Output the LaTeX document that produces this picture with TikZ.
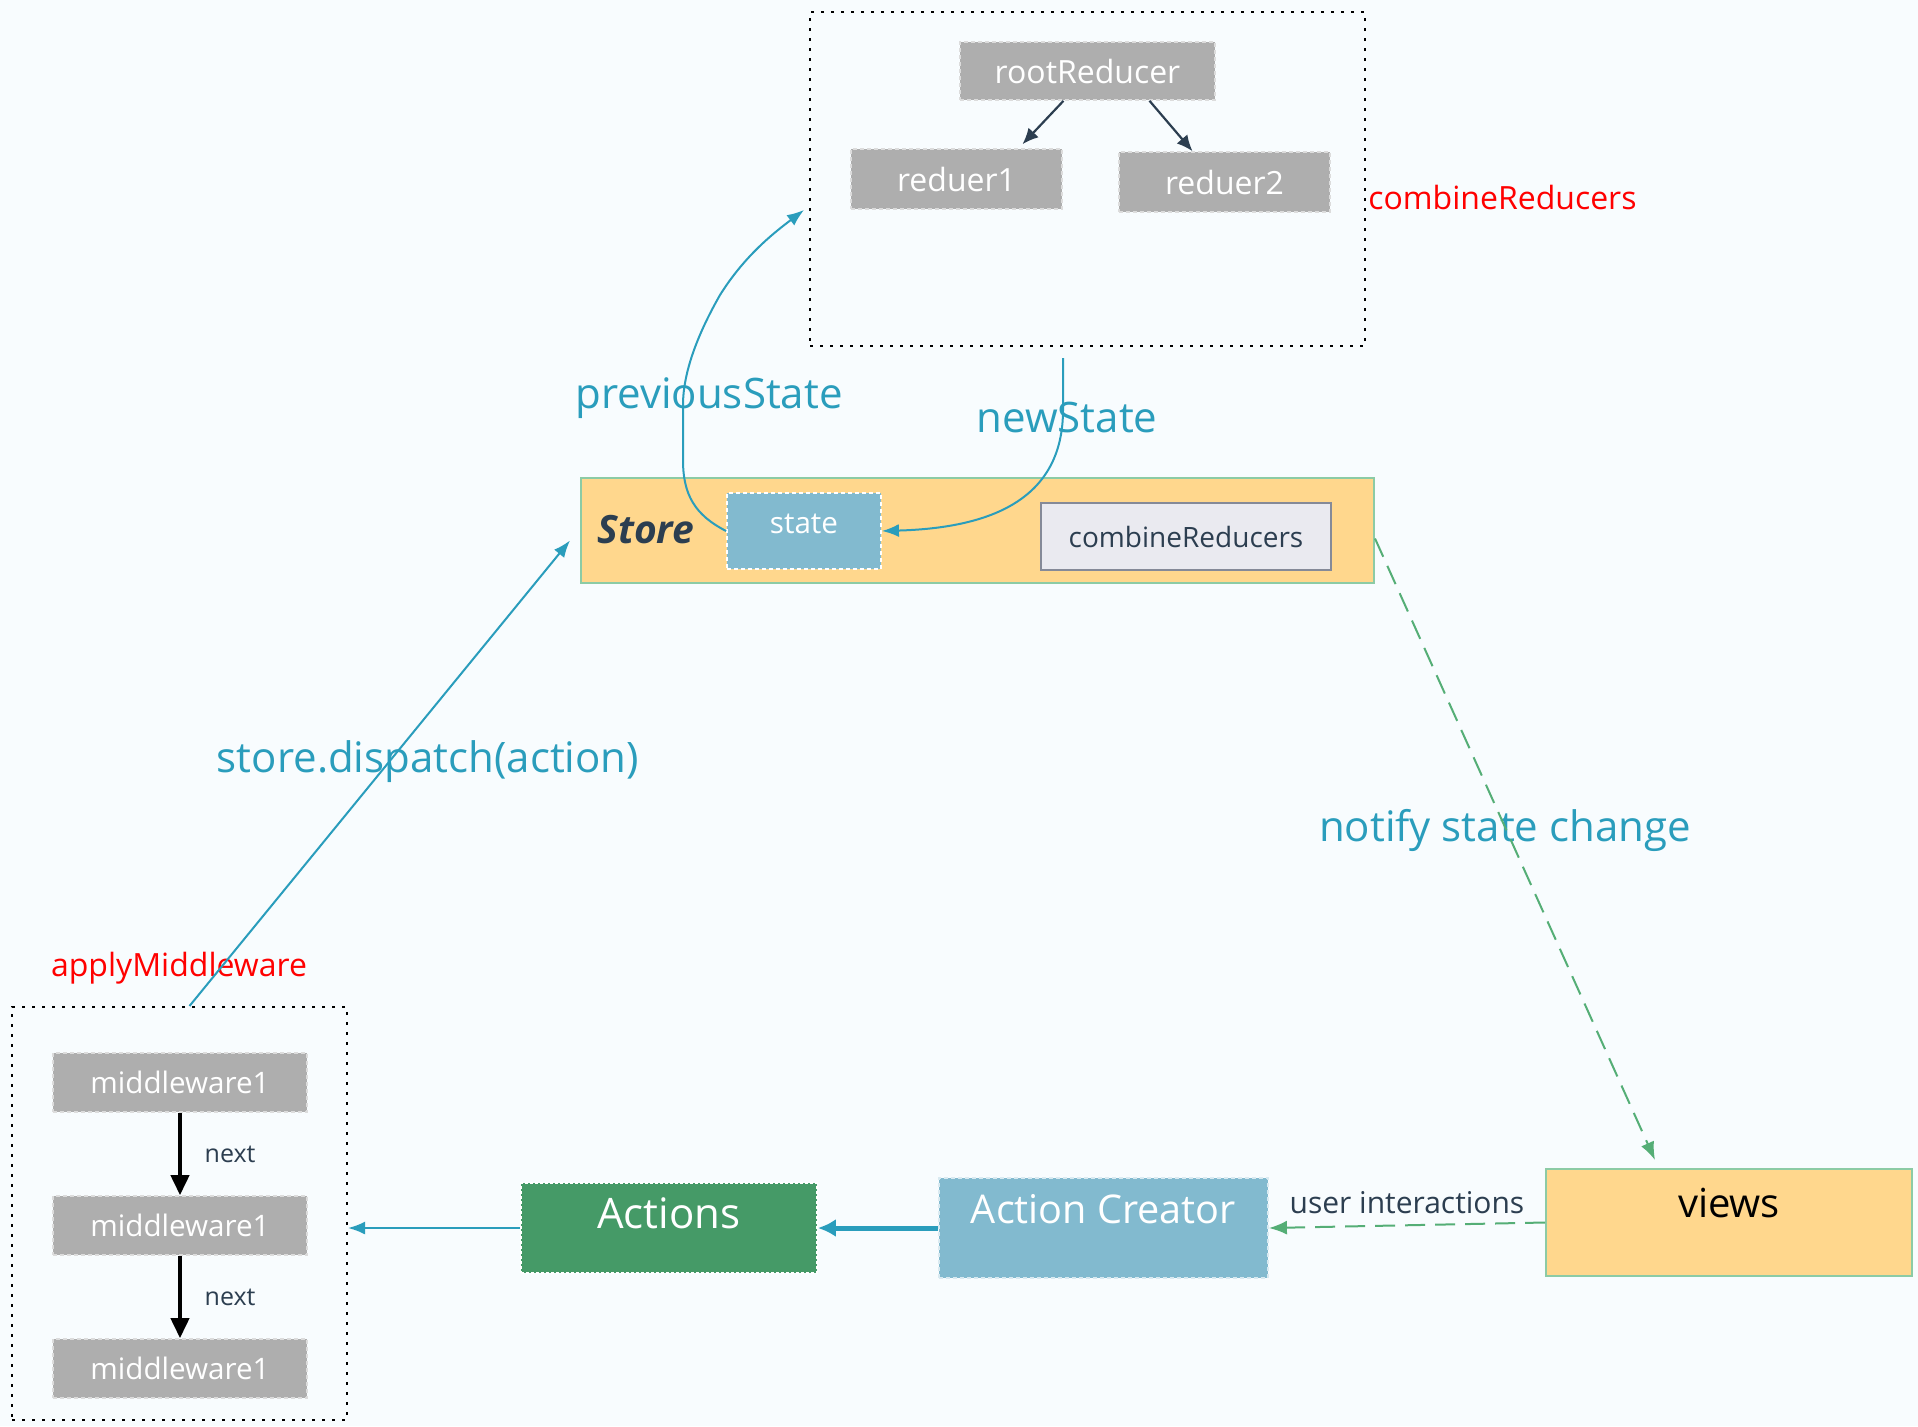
\documentclass[tikz,border=0pt]{standalone}
\usepackage{fontspec}
\setmainfont{Open Sans}
\usepackage{xcolor}
\usetikzlibrary{arrows.meta}
\usetikzlibrary{positioning}

\definecolor{bgblue}{HTML}{F8FCFE}
\definecolor{boxgray}{HTML}{AEAEAE}
\definecolor{boxedge}{HTML}{DCDCDC}
\definecolor{navy}{HTML}{2C3E50}
\definecolor{flowteal}{HTML}{2A9DBC}
\definecolor{statebl}{HTML}{82BACF}
\definecolor{actgreen}{HTML}{459A67}
\definecolor{storeyel}{HTML}{FFD78D}
\definecolor{storeedge}{HTML}{8CCBA5}
\definecolor{notegreen}{HTML}{55AE76}
\definecolor{combfill}{HTML}{EAEAF0}
\definecolor{combedge}{HTML}{858A98}

\newcommand{\fsize}[1]{\fontsize{#1}{#1}\selectfont}

\begin{document}
\begin{tikzpicture}[x=0.5pt,y=-0.5pt,
    dotbox/.style={draw=black, line width=1pt, dash pattern=on 1.5pt off 3.5pt, inner sep=0pt},
    graybox/.style={fill=boxgray, draw=boxedge, line width=0.8pt, dash pattern=on 2pt off 1.5pt, text=white, font=\fsize{16pt}, inner sep=0pt},
    statebox/.style={fill=statebl, draw=white, line width=0.9pt, dash pattern=on 2pt off 1.5pt, text=white, inner sep=0pt},
    yellowbox/.style={fill=storeyel, draw=storeedge, line width=1pt, inner sep=0pt},
    combbox/.style={fill=combfill, draw=combedge, line width=1.2pt, text=navy, font=\fsize{14pt}, inner sep=0pt},
    flowlabel/.style={text=flowteal, font=\fsize{21pt}},
    redlabel/.style={text=red, font=\fsize{16pt}},
    tealline/.style={draw=flowteal, line width=1pt, -{Latex[length=8.5pt,width=6.5pt]}},
    greendash/.style={draw=notegreen, line width=1pt, dash pattern=on 10pt off 5pt, -{Latex[length=9pt,width=7pt]}},
    treearrow/.style={draw=navy, line width=1.1pt, -{Latex[length=8pt,width=7pt]}},
    nextarrow/.style={draw=black, line width=2pt, -{Triangle[length=10pt,width=9pt]}}]
      \useasboundingbox (0,0) rectangle (1918,1426);
      \fill[bgblue] (0,0) rectangle (1918,1426);

      % combineReducers
      \begin{scope}
        \node[dotbox, minimum width=277.5pt, minimum height=167pt] (reducers) at (1087.5,179) {};
        \node[graybox, minimum width=127.5pt, minimum height=29pt] (root) at (1087.5,71) {rootReducer};
        \node[graybox, minimum width=105.5pt, minimum height=30pt] (reducer1) at (956.5,179) {reduer1};
        \node[graybox, minimum width=105.5pt, minimum height=30pt] (reducer2) at (1224.5,182) {reduer2};
        \node[redlabel, anchor=west, inner sep=0pt] (combinelabel) at (1368,197) {combineReducers};

        \draw[treearrow] ([xshift=-12pt]root.south) -- ([xshift=33pt,yshift=2pt]reducer1.north);
        \draw[treearrow] ([xshift=31pt]root.south) -- ([xshift=-16pt]reducer2.north);
      \end{scope}

      % store
      \node[yellowbox, minimum width=396.5pt, minimum height=52.5pt] (store) at (977.5,530.5) {};
      \node[anchor=west, inner sep=0pt, text=navy, font=\fsize{19.5pt}\bfseries\itshape] (storetext) at (597,530) {Store};
      \node[statebox, minimum width=77pt, minimum height=38pt, text depth=7pt, font=\fsize{14.8pt}] (state) at (804,531) {state};
      \node[combbox, minimum width=145pt, minimum height=33.5pt] (combine) at (1186,536.5) {combineReducers};

      \node[flowlabel] (prevlabel) at (709,398) {previousState};
      \node[flowlabel] (newlabel) at (1067,417) {newState};

      \draw[tealline] (state.west) .. controls (695,515) and (683,495) .. (683,460)
        -- (683,405) .. controls (683,370) and (700,330) .. (720,295)
        .. controls (745,255) and (775,232) .. ([xshift=-2.5pt,yshift=-15.5pt]reducers.west);
      \coordinate (newstart) at (1063,358);
      \draw[tealline] (newstart) -- (1063,410) .. controls (1063,500) and (990,528) .. (state.east);

      % applyMiddleware
      \node[dotbox, minimum width=167.5pt, minimum height=206.5pt] (middlewares) at (179.5,1213.5) {};
      \node[redlabel] (applylabel) at (179,968) {applyMiddleware};
      \foreach \i/\y in {1/1082.5, 2/1225.5, 3/1368.5}
        \node[graybox, minimum width=127pt, minimum height=29.5pt, font=\fsize{14.8pt}] (mw\i) at (180,\y) {middleware1};
      \draw[nextarrow] (mw1) -- (mw2) node[midway, right=8pt, text=navy, font=\fsize{12.5pt}] (next1) {next};
      \draw[nextarrow] (mw2) -- (mw3) node[midway, right=8pt, text=navy, font=\fsize{12.5pt}] (next2) {next};

      \node[flowlabel] (dispatchlabel) at (428,762) {store.dispatch(action)};
      \draw[tealline] ([xshift=5pt]middlewares.north) -- ([xshift=-5pt,yshift=-5pt]store.west);

      % actions and views
      \node[statebox, fill=actgreen, dash pattern=on 1.5pt off 1pt, minimum width=148pt, minimum height=45pt, text depth=15pt, font=\fsize{21pt}] (actions) at (669,1228) {Actions};
      \node[statebox, draw=white!70!statebl, minimum width=164.5pt, minimum height=50pt, text depth=19pt, font=\fsize{19.8pt}] (creator) at (1103.5,1228) {Action Creator};
      \node[yellowbox, minimum width=183pt, minimum height=53.5pt, text depth=20pt, font=\fsize{20pt}] (views) at (1729,1222.5) {views};

      \draw[tealline] (actions.west) -- (actions.west -| middlewares.east);
      \draw[draw=flowteal, line width=2.5pt, -{Latex[length=9pt,width=9pt]}] (creator.west) -- (actions.east);
      \draw[greendash] (views.west) -- (creator.east) node[midway, above=2pt, text=navy, font=\fsize{15pt}] (userlabel) {user interactions};

      \node[flowlabel] (notifylabel) at (1505,830) {notify state change};
      \draw[greendash] ([yshift=-4pt]store.east) -- ([xshift=-37pt,yshift=4pt]views.north);
    \end{tikzpicture}
\end{document}
